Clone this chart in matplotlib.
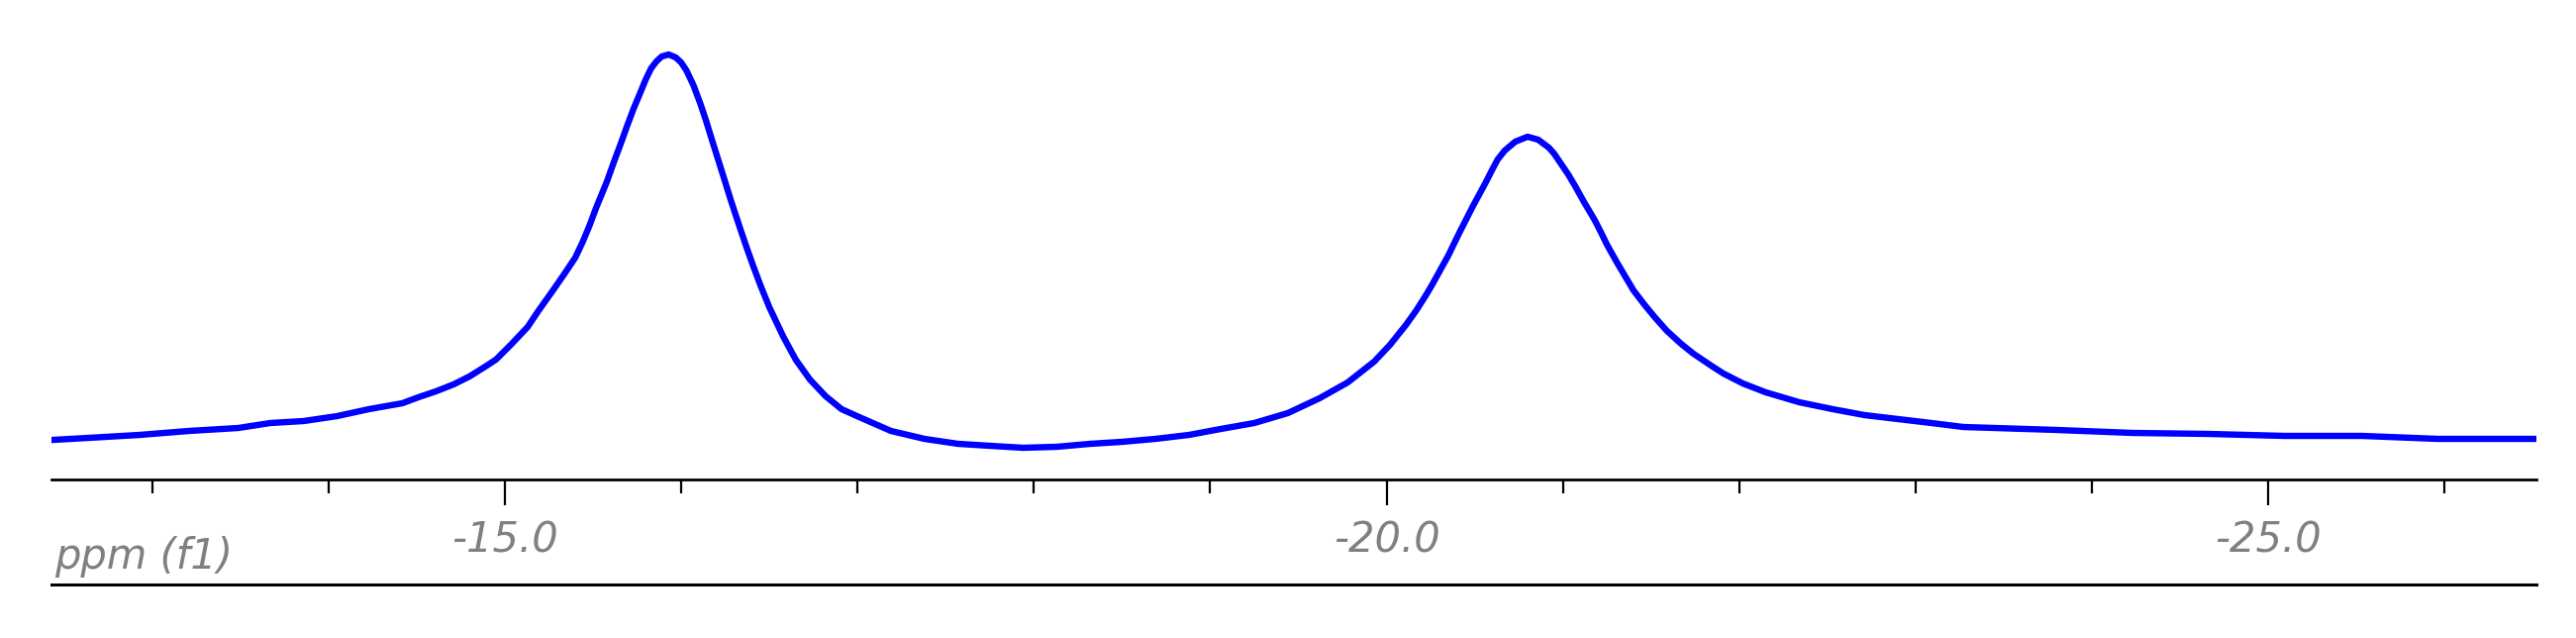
import numpy as np
import matplotlib
matplotlib.use('Agg')
from matplotlib import pyplot as plt
from matplotlib.ticker import MultipleLocator, FormatStrFormatter

# chemical shift (ppm) and intensity (arbitrary units)
ppm = [-12.44, -12.64, -12.93, -13.21, -13.49, -13.67, -13.86, -14.05, -14.23, -14.42,
       -14.51, -14.61, -14.71, -14.80, -14.89, -14.95, -15.04, -15.13, -15.19, -15.27,
       -15.34, -15.40, -15.44, -15.48, -15.52, -15.58, -15.62, -15.66, -15.69, -15.73,
       -15.77, -15.80, -15.83, -15.86, -15.89, -15.93, -15.97, -16.00, -16.03, -16.07,
       -16.11, -16.14, -16.18,
       -16.24, -16.28, -16.33, -16.37, -16.41, -16.45, -16.50, -16.58, -16.65, -16.73,
       -16.82, -16.91, -17.01, -17.19, -17.38, -17.57, -17.75, -17.94, -18.13, -18.32,
       -18.50, -18.69, -18.88, -19.06, -19.25, -19.44, -19.62, -19.78, -19.93, -20.02,
       -20.11, -20.17, -20.22, -20.26, -20.35, -20.41, -20.49, -20.56, -20.60, -20.63,
       -20.67, -20.73, -20.80, -20.86, -20.92, -20.95, -21.03, -21.07, -21.12, -21.18,
       -21.22, -21.25, -21.31, -21.36, -21.40, -21.46, -21.52, -21.59, -21.67, -21.74,
       -21.84, -21.91, -22.02, -22.15, -22.34, -22.53, -22.71, -22.90, -23.09, -23.27,
       -23.80, -24.23, -24.66, -25.09, -25.53, -25.96, -26.52]
intensity = [6, 8, 11, 15, 18, 23, 25, 30, 37, 43,
             49, 55, 62, 70, 80, 87, 103, 120, 136, 156,
             174, 190, 205, 222, 241, 267, 287, 306, 321, 340,
             357, 370, 381, 388, 393, 395, 392, 387, 379, 364,
             345, 329, 306,
             272, 249, 222, 201, 181, 162, 140, 110, 87, 67,
             50, 37, 29, 15, 7, 2, 0, -2, -1, 2,
             4, 7, 11, 17, 23, 33, 48, 64, 85, 102,
             122, 137, 151, 163, 192, 214, 242, 265, 279, 289,
             298, 307, 312, 309, 301, 295, 274, 262, 246, 228,
             214, 203, 184, 169, 157, 143, 130, 116, 103, 93,
             81, 73, 63, 54, 44, 37, 31, 27, 23, 19,
             16, 13, 12, 10, 10, 7, 7]

major_ticks = [-15.0, -20.0, -25.0]
axis_label = 'ppm (f1)'

plt.rcParams['font.family'] = ['DejaVu Sans']
plt.rcParams['font.style'] = 'italic'

W, H = 2602, 644
fig = plt.figure(figsize=(W / 100, H / 100), dpi=100)


def box(x0, y0, x1, y1):
    # pixel box (from top-left) -> figure fraction
    return [x0 / W, 1 - y1 / H, (x1 - x0) / W, (y1 - y0) / H]


ax = fig.add_axes(box(52, 0, 2562, 484))
ax.plot(ppm, intensity, color='#0000ff', lw=4.6)
ax.set_xlim(-12.43, -26.52)
ax.set_ylim(-34, 450)

for s in ['top', 'left', 'right']:
    ax.spines[s].set_visible(False)
ax.spines['bottom'].set_linewidth(2.0)
ax.set_yticks([])
ax.set_xticks(major_ticks)
ax.xaxis.set_minor_locator(MultipleLocator(1))
ax.xaxis.set_major_formatter(FormatStrFormatter('%.1f'))
ax.tick_params(axis='x', which='major', length=18.5, width=1.6, pad=11,
               labelsize=30, labelcolor='#808080')
ax.tick_params(axis='x', which='minor', length=10, width=1.6)

# strip under the scale holding the axis name and the closing rule
lab = fig.add_axes(box(52, 484, 2562, 590), facecolor='none')
for s in ['top', 'left', 'right']:
    lab.spines[s].set_visible(False)
lab.spines['bottom'].set_linewidth(2.2)
lab.set_xticks([])
lab.set_yticks([])
lab.text((235 - 52) / 2510, 0.26, axis_label, transform=lab.transAxes,
         ha='right', va='center', fontsize=30, color='#808080', clip_on=True)

fig.savefig('out.png', dpi=100)
